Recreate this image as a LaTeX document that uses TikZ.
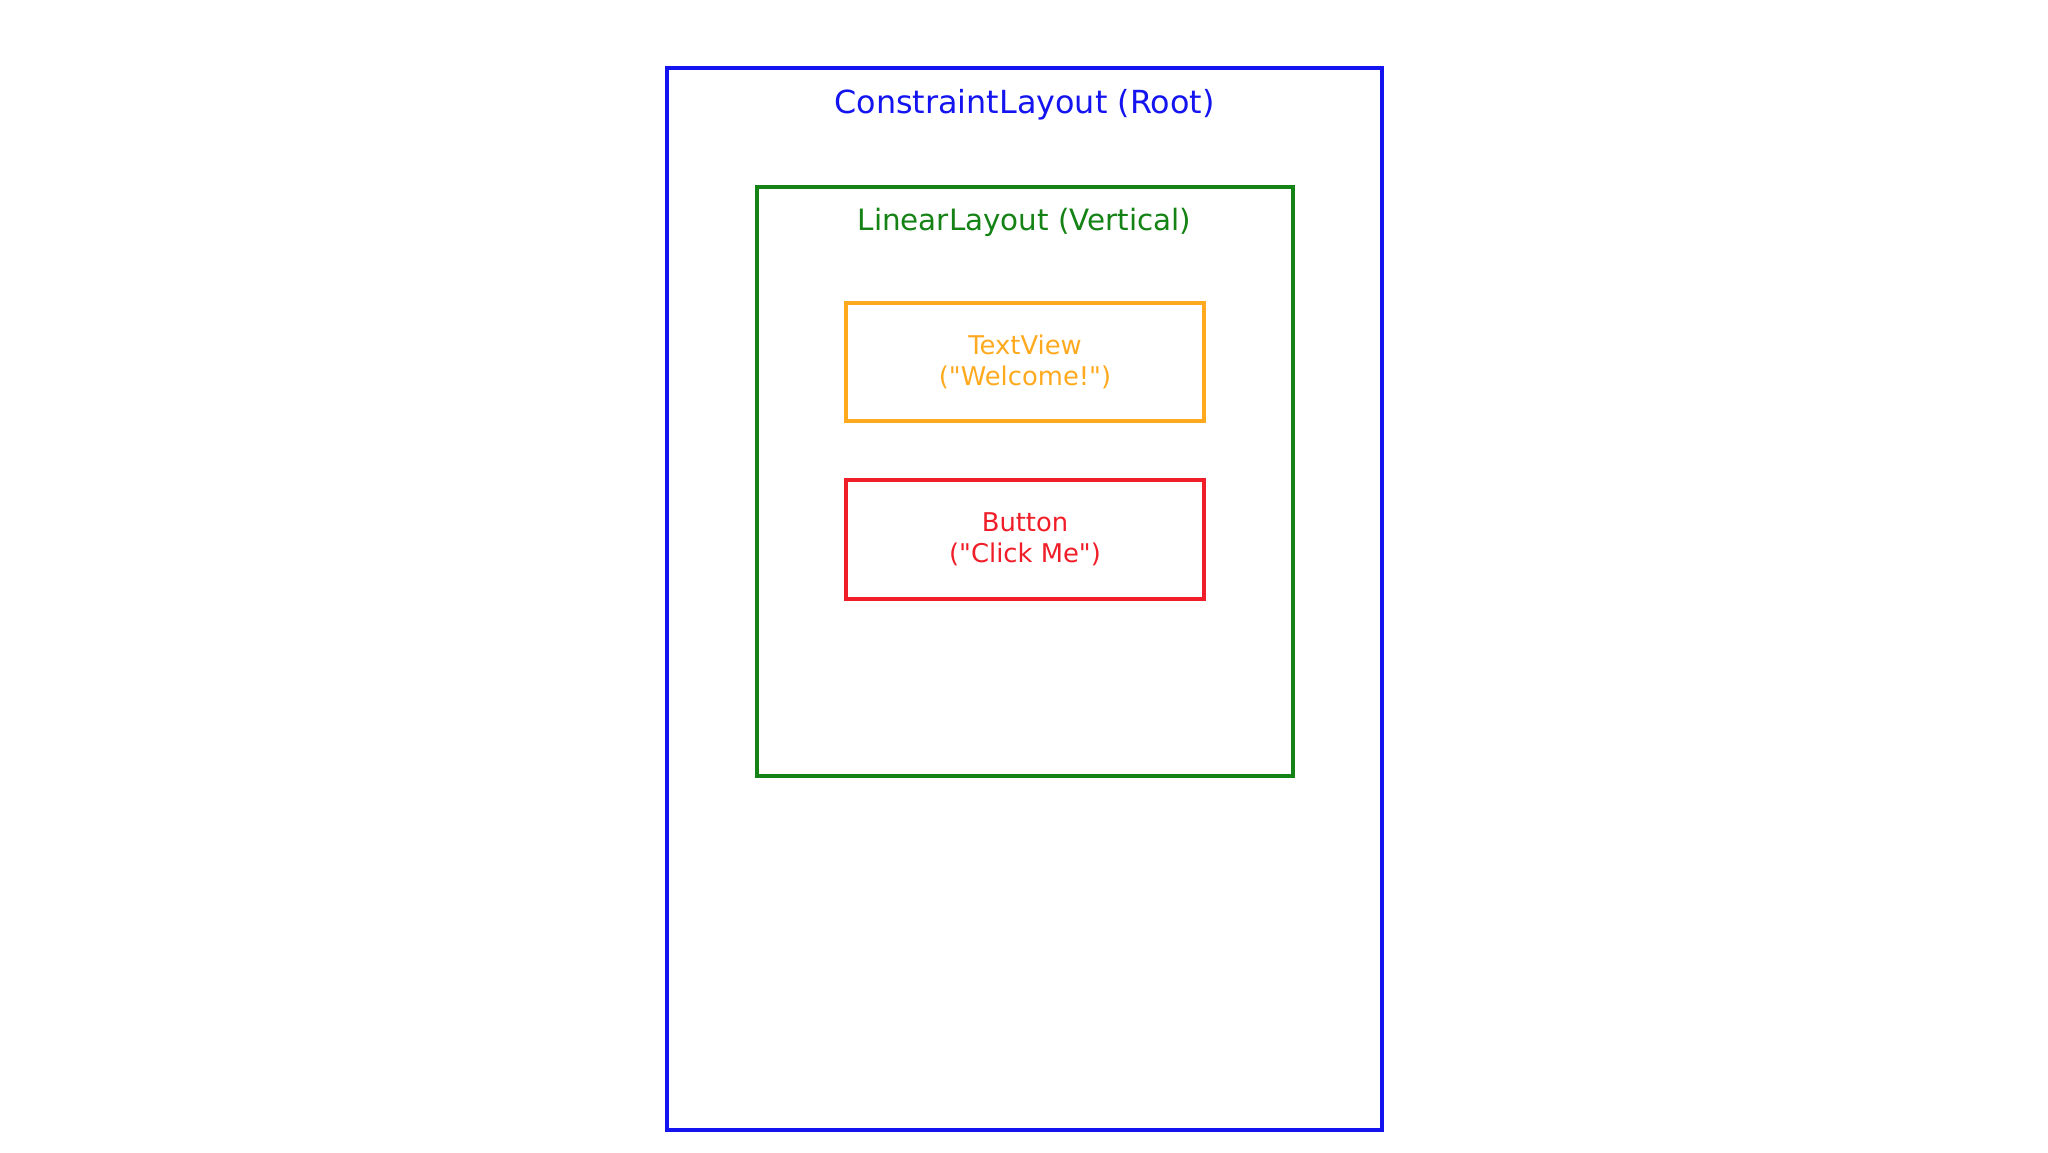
\documentclass[tikz,border=0pt]{standalone}
\usepackage{fontspec}
\setmainfont{DejaVu Sans}[Ligatures=TeXOff]
\definecolor{cblue}{RGB}{20,20,240}
\definecolor{cgreen}{RGB}{20,130,20}
\definecolor{corange}{RGB}{255,170,30}
\definecolor{cred}{RGB}{240,30,40}
\tikzset{
  box/.style={draw, line width=2pt, rectangle, inner sep=0pt, outer sep=0pt},
  title/.style={font=\fontsize{15.9}{18}\selectfont, inner sep=0pt},
  inner/.style={box, align=center, font=\fontsize{12.9}{15.6}\selectfont}
}
\begin{document}
\begin{tikzpicture}[x=0.5pt,y=-0.5pt]
\useasboundingbox[fill=white] (0,0) rectangle (2048,1152);
\node[box, draw=cblue, minimum width=357.5pt, minimum height=531pt] (root) at (1024.5,599) {};
\node[title, text=cblue] (roott) at (1024.5,105) {ConstraintLayout (Root)};
\node[box, draw=cgreen, minimum width=268pt, minimum height=294.5pt] (lin) at (1025,481.5) {};
\node[title, text=cgreen, font=\fontsize{14.7}{17}\selectfont] (lint) at (1024.5,222) {LinearLayout (Vertical)};
\node[inner, draw=corange, text=corange, minimum width=179pt, minimum height=59pt] (tv) at (1025,362) {TextView\\("Welcome!")};
\node[inner, draw=cred, text=cred, minimum width=179pt, minimum height=59.5pt] (btn) at (1025,539.5) {Button\\("Click Me")};
\end{tikzpicture}
\end{document}
